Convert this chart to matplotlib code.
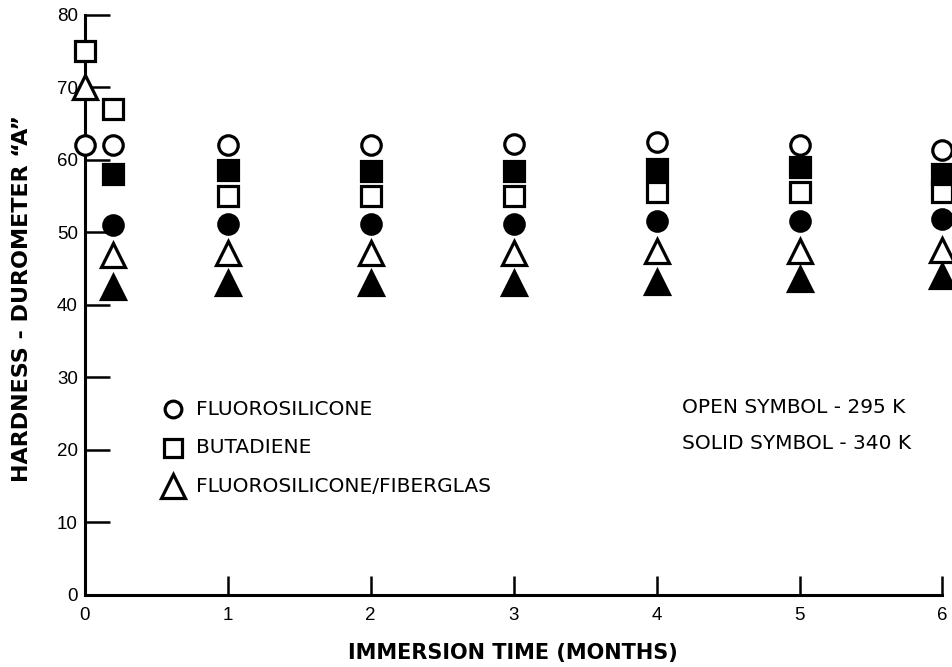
import matplotlib.pyplot as plt

# immersion times (months) and durometer readings
months_open = [0, 0.2, 1, 2, 3, 4, 5, 6]
months_solid = [0.2, 1, 2, 3, 4, 5, 6]

fluoro_295 = [62, 62, 62, 62, 62.2, 62.4, 62, 61.3]
butadiene_295 = [75, 67, 55, 55, 55, 55.5, 55.5, 55.5]
fiberglas_295 = [70, 46.8, 47.2, 47.2, 47.2, 47.4, 47.4, 47.6]

fluoro_340 = [51, 51.2, 51.2, 51.2, 51.5, 51.5, 51.8]
butadiene_340 = [58, 58.6, 58.4, 58.4, 58.7, 59, 58]
fiberglas_340 = [42.5, 43, 43, 43, 43.2, 43.5, 44]

legend_names = ["FLUOROSILICONE", "BUTADIENE", "FLUOROSILICONE/FIBERGLAS"]
x_ticks = [0, 1, 2, 3, 4, 5, 6]
y_ticks = [0, 10, 20, 30, 40, 50, 60, 70, 80]

TICK_FONT = "Liberation Sans"
TEXT_FONT = "DejaVu Sans"


def plot_series(ax, x, y, marker, open_symbol, size):
    face = "white" if open_symbol else "black"
    ax.plot(x, y, linestyle="none", marker=marker, markersize=size,
            markerfacecolor=face, markeredgecolor="black",
            markeredgewidth=2.3, clip_on=False, zorder=5)


def main():
    fig = plt.figure(figsize=(9.52, 6.67), dpi=100)
    ax = fig.add_axes([0.089, 0.108, 0.901, 0.87])

    plot_series(ax, months_open, fluoro_295, "o", True, 14)
    plot_series(ax, months_open, butadiene_295, "s", True, 14)
    plot_series(ax, months_open, fiberglas_295, "^", True, 17.5)
    plot_series(ax, months_solid, fluoro_340, "o", False, 14)
    plot_series(ax, months_solid, butadiene_340, "s", False, 14)
    plot_series(ax, months_solid, fiberglas_340, "^", False, 17.5)

    ax.set_xlim(0, 6)
    ax.set_ylim(0, 80)
    ax.set_xticks(x_ticks)
    ax.set_yticks(y_ticks)
    for side in ("top", "right"):
        ax.spines[side].set_visible(False)
    for side in ("left", "bottom"):
        ax.spines[side].set_linewidth(2.2)
    ax.tick_params(axis="x", direction="in", length=14, width=1.8, pad=9)
    ax.tick_params(axis="y", direction="in", length=18, width=1.8, pad=5)
    for lab in ax.get_xticklabels() + ax.get_yticklabels():
        lab.set_fontfamily(TICK_FONT)
        lab.set_fontsize(13.5)

    # symbol key
    key_markers = ["o", "s", "^"]
    key_sizes = [12, 13, 17]
    key_y = [25.6, 20.3, 15.0]
    for name, m, s, yy in zip(legend_names, key_markers, key_sizes, key_y):
        ax.plot([0.615], [yy], linestyle="none", marker=m, markersize=s,
                markerfacecolor="white", markeredgecolor="black",
                markeredgewidth=2.3)
        ax.text(0.78, yy, name, fontfamily=TEXT_FONT, fontsize=14.5,
                va="center", ha="left")

    ax.text(4.18, 25.8, "OPEN SYMBOL - 295 K", fontfamily=TEXT_FONT,
            fontsize=14.5, va="center", ha="left")
    ax.text(4.18, 20.9, "SOLID SYMBOL - 340 K", fontfamily=TEXT_FONT,
            fontsize=14.5, va="center", ha="left")

    fig.text(0.539, 0.021, "IMMERSION TIME (MONTHS)", fontfamily=TEXT_FONT,
             fontsize=15, fontweight="bold", ha="center", va="center")
    fig.text(0.023, 0.552, "HARDNESS - DUROMETER \u201cA\u201d",
             fontfamily=TEXT_FONT, fontsize=16, fontweight="bold",
             rotation=90, ha="center", va="center")

    fig.savefig("out.png", dpi=100)


if __name__ == "__main__":
    main()
